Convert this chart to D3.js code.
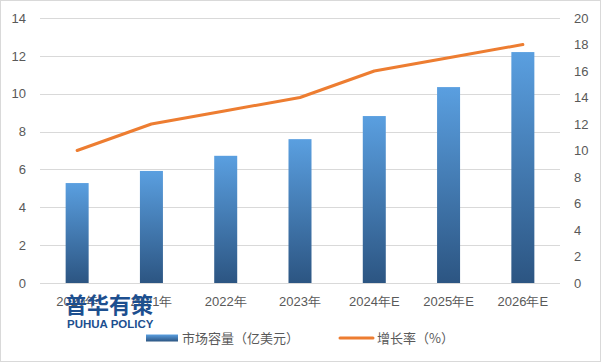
<!DOCTYPE html>
<html>
<head>
<meta charset="utf-8">
<script src="https://cdn.jsdelivr.net/npm/d3@7"></script>
<style>
  body { margin: 0; background: #fff; }
  svg { font-family: "Microsoft YaHei", "Noto Sans CJK SC", "DejaVu Sans", sans-serif; }
</style>
</head>
<body>
<svg id="chart"></svg>
<script>
// chart data
const categories = ['2020年', '2021年', '2022年', '2023年', '2024年E', '2025年E', '2026年E'];
const capacity = [5.28, 5.92, 6.72, 7.6, 8.82, 10.35, 12.2];   // 市场容量（亿美元）
const growth = [10, 12, 13, 14, 16, 17, 18];                    // 增长率（%）
const leftTicks = [0, 2, 4, 6, 8, 10, 12, 14];
const rightTicks = [0, 2, 4, 6, 8, 10, 12, 14, 16, 18, 20];

const W = 601, H = 362;
const plotL = 40, plotR = 560, plotT = 18, plotB = 283;

const svg = d3.select('#chart').attr('width', W).attr('height', H);

// frame
svg.append('rect')
  .attr('x', 0.5).attr('y', 0.5)
  .attr('width', W - 1).attr('height', H - 1)
  .attr('fill', '#fff').attr('stroke', '#d9d9d9');

const defs = svg.append('defs');
const grad = defs.append('linearGradient')
  .attr('id', 'barGrad').attr('x1', 0).attr('y1', 0).attr('x2', 0).attr('y2', 1);
grad.append('stop').attr('offset', '0%').attr('stop-color', '#5a9fe0');
grad.append('stop').attr('offset', '100%').attr('stop-color', '#2c5582');

const x = d3.scaleBand().domain(categories).range([plotL, plotR]).paddingInner(0).paddingOuter(0);
const yL = d3.scaleLinear().domain([0, 14]).range([plotB, plotT]);
const yR = d3.scaleLinear().domain([0, 20]).range([plotB, plotT]);

// gridlines
svg.append('g')
  .selectAll('line')
  .data(leftTicks)
  .join('line')
    .attr('x1', plotL).attr('x2', plotR)
    .attr('y1', d => Math.round(yL(d)) + 0.5)
    .attr('y2', d => Math.round(yL(d)) + 0.5)
    .attr('stroke', '#d9d9d9');

// left axis
const axL = svg.append('g')
  .attr('transform', `translate(${plotL},0)`)
  .call(d3.axisLeft(yL).tickValues(leftTicks).tickSize(0).tickPadding(14));
axL.select('.domain').remove();
axL.selectAll('text').attr('fill', '#595959').style('font-size', '13px');

// right axis
const axR = svg.append('g')
  .attr('transform', `translate(${plotR},0)`)
  .call(d3.axisRight(yR).tickValues(rightTicks).tickSize(0).tickPadding(14));
axR.select('.domain').remove();
axR.selectAll('text').attr('fill', '#595959').style('font-size', '13px');

// bars
const barW = 23;
svg.append('g')
  .selectAll('rect')
  .data(capacity)
  .join('rect')
    .attr('x', (d, i) => x(categories[i]) + x.bandwidth() / 2 - barW / 2)
    .attr('y', d => yL(d))
    .attr('width', barW)
    .attr('height', d => plotB - yL(d))
    .attr('fill', 'url(#barGrad)');

// x axis labels
const axB = svg.append('g')
  .attr('transform', `translate(0,${plotB})`)
  .call(d3.axisBottom(x).tickSize(0).tickPadding(14));
axB.select('.domain').remove();
axB.selectAll('text').attr('fill', '#595959').style('font-size', '13px');

// growth line
const line = d3.line()
  .x((d, i) => x(categories[i]) + x.bandwidth() / 2)
  .y(d => yR(d));
svg.append('path')
  .datum(growth)
  .attr('d', line)
  .attr('fill', 'none')
  .attr('stroke', '#ed7d31')
  .attr('stroke-width', 3)
  .attr('stroke-linecap', 'round')
  .attr('stroke-linejoin', 'round');

// watermark
svg.append('text')
  .attr('x', 65).attr('y', 313)
  .attr('fill', '#1d4f8f')
  .style('font-size', '22px').style('font-weight', 'bold')
  .text('普华有策');
svg.append('text')
  .attr('x', 67).attr('y', 328)
  .attr('fill', '#1d4f8f')
  .style('font-size', '11.5px').style('font-weight', 'bold')
  .style('font-family', 'Arial, "Liberation Sans", sans-serif')
  .text('PUHUA POLICY');

// legend
const lg = svg.append('g').attr('transform', 'translate(0,338)');
lg.append('rect')
  .attr('x', 146).attr('y', -3.5).attr('width', 32).attr('height', 7)
  .attr('fill', 'url(#barGrad)');
lg.append('text')
  .attr('x', 182).attr('y', 4.5)
  .attr('fill', '#595959').style('font-size', '13px')
  .text('市场容量（亿美元）');
lg.append('line')
  .attr('x1', 340).attr('x2', 373).attr('y1', 0).attr('y2', 0)
  .attr('stroke', '#ed7d31').attr('stroke-width', 3).attr('stroke-linecap', 'round');
lg.append('text')
  .attr('x', 377).attr('y', 4.5)
  .attr('fill', '#595959').style('font-size', '13px')
  .text('增长率（%）');
</script>
</body>
</html>
